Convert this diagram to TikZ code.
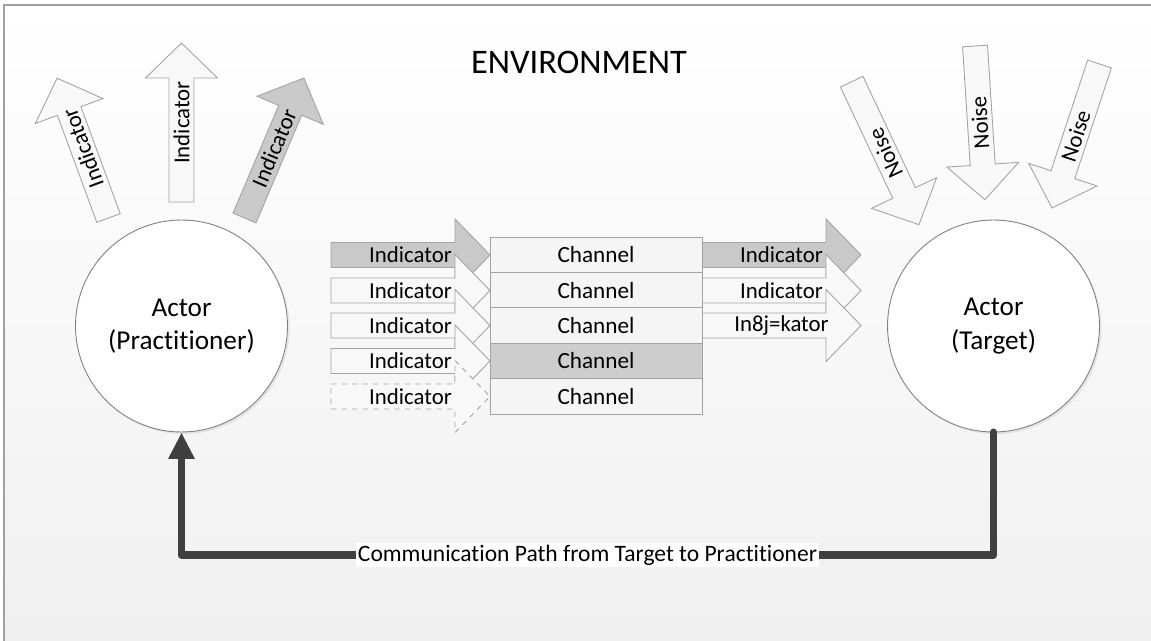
\documentclass[tikz,border=0pt]{standalone}
\usepackage{fontspec}
\setmainfont{Carlito}[Ligatures={NoCommon,NoContextual,NoRequired},Contextuals=NoAlternate]
\usetikzlibrary{arrows.meta,shadows}
\definecolor{bgbot}{HTML}{F0F0F0}
\definecolor{framegray}{HTML}{A0A0A0}
\definecolor{lightfill}{HTML}{F8F8F8}
\definecolor{grayfill}{HTML}{C9C9C9}
\definecolor{edgegray}{HTML}{A3A3A3}
\definecolor{chanfill}{HTML}{F5F5F5}
\definecolor{chandark}{HTML}{CDCDCD}
\definecolor{pathgray}{HTML}{404040}
\newcommand\barrow[7]{%
  \begin{scope}[shift={#2},rotate=#3]
    \draw[#5] (0,-12.5) -- ({#4-35},-12.5) -- ({#4-35},-36) -- (#4,0)
      -- ({#4-35},36) -- ({#4-35},12.5) -- (0,12.5) -- cycle;
    \node[arrowtext,rotate=#7] (#1) at ({#4/2},0) {#6};
  \end{scope}}
\begin{document}
\begin{tikzpicture}[x=0.02cm,y=-0.02cm,
  arrowtext/.style={inner sep=0pt,font=\fontsize{13pt}{15pt}\selectfont},
  lightarrow/.style={draw=edgegray,fill=lightfill,line width=0.5pt,line join=miter},
  grayarrow/.style={draw=edgegray,fill=grayfill,line width=0.5pt,line join=miter},
  dasharrow/.style={draw=edgegray,fill=lightfill,line width=0.5pt,dashed},
  actor/.style={circle,draw=gray,fill=white,line width=0.5pt,minimum size=4.24cm,inner sep=0pt,
    align=center,font=\fontsize{15.5pt}{19pt}\selectfont,
    drop shadow={shadow xshift=1.2pt,shadow yshift=-1.2pt,opacity=0.15}},
  chan/.style={rectangle,draw=edgegray,fill=chanfill,line width=0.5pt,minimum width=4.24cm,
    minimum height=0.708cm,inner sep=0pt,font=\fontsize{13.2pt}{15pt}\selectfont},
  conn/.style={draw=pathgray,line width=4.5pt,line join=round,line cap=round,
    -{Triangle[length=15pt,width=14pt]}},
  pathlabel/.style={fill=white,inner sep=1pt,font=\fontsize{13.4pt}{15pt}\selectfont}]
\useasboundingbox (0,0) rectangle (1151,641);
\shade[top color=white,bottom color=bgbot] (4,5) rectangle (1151,641);
\draw[framegray,line width=0.8pt] (4,641) -- (4,5) -- (1151,5);

\node[font=\fontsize{19.6pt}{23pt}\selectfont] (env) at (579,62) {ENVIRONMENT};

% actors
\node[actor] (act) at (181.5,326) {Actor\\(Practitioner)};
\node[actor] (tgt) at (993.5,326) {Actor\\(Target)};

% indicators leaving the practitioner
\barrow{ind1}{(108.5,218)}{110.2}{149}{lightarrow}{Indicator}{110.2}
\barrow{ind2}{(181.5,202)}{90}{159}{lightarrow}{Indicator}{90}
\barrow{ind3}{(244.5,218)}{67}{152}{grayarrow}{Indicator}{67}

% noise arriving at the target
\barrow{noi1}{(851.7,81.7)}{-64.8}{158}{lightarrow}{Noise}{115.2}
\barrow{noi2}{(975,46)}{-86.3}{154}{lightarrow}{Noise}{93.7}
\barrow{noi3}{(1099.5,64)}{-108.3}{151.6}{lightarrow}{Noise}{71.7}

% indicators into channels
\barrow{li1}{(331,255)}{0}{159}{grayarrow}{Indicator}{0}
\barrow{li2}{(331,290.5)}{0}{159}{lightarrow}{Indicator}{0}
\barrow{li3}{(331,325.5)}{0}{159}{lightarrow}{Indicator}{0}
\barrow{li4}{(331,361)}{0}{159}{lightarrow}{Indicator}{0}
\barrow{li5}{(331,396.5)}{0}{159}{dasharrow}{Indicator}{0}

% indicators out of channels
\barrow{ri1}{(702,255)}{0}{159}{grayarrow}{Indicator}{0}
\barrow{ri2}{(702,290.5)}{0}{159}{lightarrow}{Indicator}{0}
\barrow{ri3}{(702,325.5)}{0}{159}{lightarrow}{In8j=kator}{0}

% channels
\node[chan] (ch1) at (596,255) {Channel};
\node[chan] (ch2) at (596,290.5) {Channel};
\node[chan] (ch3) at (596,325.5) {Channel};
\node[chan,fill=chandark] (ch4) at (596,361) {Channel};
\node[chan] (ch5) at (596,396.5) {Channel};

% communication path
\coordinate (cr) at (993.5,555);
\coordinate (cl) at (181.5,555);
\draw[conn] (tgt.south) -- (cr) -- node[pathlabel] (lbl) {Communication Path from Target to Practitioner} (cl) -- (act.south);
\end{tikzpicture}
\end{document}
